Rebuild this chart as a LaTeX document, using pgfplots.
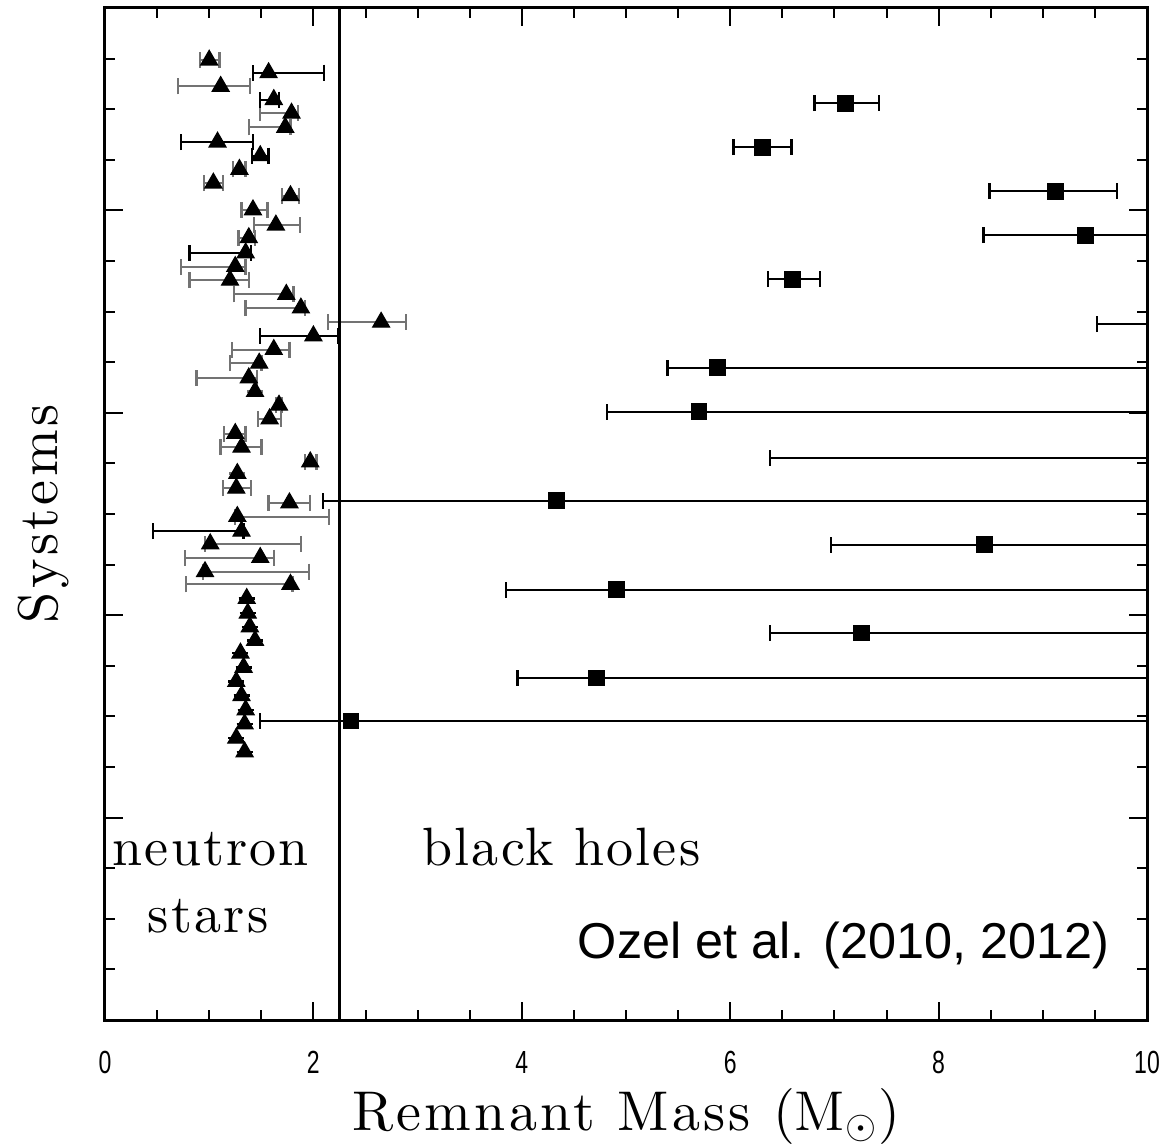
\documentclass[border=0pt]{standalone}
\usepackage{pgfplots}
\pgfplotsset{compat=1.18}
\usepackage{pgfplotstable}
\usepackage{fontspec}
\usetikzlibrary{calc}
\newfontfamily\ticksf{Liberation Sans}[FakeStretch=0.72]
\newfontfamily\notesf{Liberation Sans}
\newfontfamily\lblwide{lmroman10-regular.otf}[LetterSpace=6]
\newfontfamily\regwide{lmroman10-regular.otf}[LetterSpace=4]
\newcommand\lblfont{\lblwide\fontsize{14}{16}\selectfont}
\newcommand\regionfont{\regwide\fontsize{13.5}{16}\selectfont}

% filled up-pointing triangle, mark size = half of its base
\pgfdeclareplotmark{uptri}{%
  \pgfpathmoveto{\pgfqpoint{0pt}{1.155\pgfplotmarksize}}%
  \pgfpathlineto{\pgfqpoint{-\pgfplotmarksize}{-0.577\pgfplotmarksize}}%
  \pgfpathlineto{\pgfqpoint{\pgfplotmarksize}{-0.577\pgfplotmarksize}}%
  \pgfpathclose
  \pgfusepathqfillstroke}

% neutron stars, grey error bars: mass, row, minus error, plus error
\pgfplotstableread{
x    y     em    ep
1.00 18.97 0.09 0.10
1.11 18.45 0.41 0.28
1.79 17.92 0.30 0.06
1.73 17.64 0.35 0.05
1.29 16.81 0.06 0.06
1.04 16.54 0.09 0.09
1.78 16.29 0.08 0.08
1.42 16.01 0.11 0.14
1.64 15.71 0.21 0.23
1.38 15.46 0.10 0.06
1.25 14.89 0.52 0.10
1.20 14.62 0.39 0.18
1.74 14.34 0.50 0.07
1.88 14.07 0.53 0.04
2.65 13.79 0.51 0.24
1.62 13.25 0.40 0.15
1.48 12.98 0.28 0.02
1.38 12.69 0.50 0.08
1.44 12.42 0.00 0.00
1.67 12.15 0.03 0.03
1.58 11.88 0.11 0.11
1.25 11.59 0.11 0.10
1.31 11.32 0.20 0.19
1.97 11.03 0.05 0.06
1.27 10.80 0.00 0.00
1.26 10.51 0.13 0.14
1.77 10.22 0.20 0.20
1.27 9.95  0.02 0.88
1.01 9.41  0.05 0.87
1.49 9.14  0.72 0.13
0.96 8.86  0.02 1.00
1.78 8.61  1.00 0.02
}\nsgray

% neutron stars, black error bars
\pgfplotstableread{
x    y     em    ep
1.57 18.72 0.15 0.53
1.62 18.19 0.13 0.05
1.08 17.35 0.35 0.34
1.49 17.08 0.08 0.08
1.35 15.16 0.54 0.05
2.00 13.52 0.51 0.24
1.31 9.66  0.85 0.02
1.36 8.33  0 0
1.37 8.04  0 0
1.39 7.77  0 0
1.44 7.50  0 0
1.30 7.25  0 0
1.33 6.97  0 0
1.26 6.69  0 0
1.31 6.41  0 0
1.35 6.13  0 0
1.34 5.85  0 0
1.26 5.57  0 0
1.34 5.30  0 0
}\nsblack

% black holes (x = 12 marks a mass beyond the plotted range)
\pgfplotstableread{
x     y     em    ep
7.11  18.12 0.30 0.32
6.31  17.25 0.28 0.28
9.12  16.38 0.63 0.59
9.41  15.51 0.98 5.00
6.60  14.64 0.24 0.26
12.00 13.75 2.48 1.00
5.88  12.89 0.48 10.0
5.70  12.02 0.88 10.0
12.00 11.11 5.62 1.00
4.33  10.26 2.24 10.0
8.44  9.39  1.47 10.0
4.91  8.50  1.06 10.0
7.26  7.65  0.88 10.0
4.72  6.76  0.76 10.0
2.36  5.91  0.87 10.0
}\bh

\begin{document}
\begin{tikzpicture}
\begin{axis}[
  name=ax,
  scale only axis,
  width=260.5pt, height=253pt,
  xmin=0, xmax=10, ymin=0, ymax=20,
  xtick={0,2,4,6,8,10},
  minor x tick num=3,
  ytick={4,8,12,16},
  minor ytick={1,2,3,5,6,7,9,10,11,13,14,15,17,18,19},
  yticklabels={},
  tick align=inside,
  major tick length=4.6pt,
  minor tick length=2.4pt,
  axis line style={line width=0.75pt},
  every tick/.style={black, line width=0.5pt},
  /pgf/number format/assume math mode=true,
  xticklabel style={font=\ticksf\fontsize{8}{9}\selectfont, yshift=-4.3pt},
  xlabel={Remnant Mass ($\mathrm{M}_{\odot}$)},
  ylabel={Systems},
  xlabel style={font=\lblfont, at={(axis description cs:0.5,-0.109)}, anchor=base},
  ylabel style={font=\lblfont, at={(axis description cs:-0.046,0.5)}, anchor=base},
  errbar/.style={draw=none, mark=none,
    error bars/.cd, x dir=both, x explicit,
    error bar style={draw=#1, line width=0.5pt},
    error mark options={rotate=90, mark size=2pt, draw=#1, line width=0.6pt}},
]
% error bars first, so the symbols sit on top of them
\addplot[errbar=black!55] table[x=x, y=y, x error minus=em, x error plus=ep] {\nsgray};
\addplot[errbar=black] table[x=x, y=y, x error minus=em, x error plus=ep] {\nsblack};
\addplot[errbar=black] table[x=x, y=y, x error minus=em, x error plus=ep] {\bh};

\addplot[only marks, mark=uptri, mark size=2.1pt, mark options={fill=black, draw=black, line width=0.3pt}] table[x=x, y=y] {\nsgray};
\addplot[only marks, mark=uptri, mark size=2.1pt, mark options={fill=black, draw=black, line width=0.3pt}] table[x=x, y=y] {\nsblack};
\addplot[only marks, mark=square*, mark size=1.9pt, black] table[x=x, y=y] {\bh};

% dividing line between the two populations
\addplot[black, line width=0.6pt] coordinates {(2.25,0) (2.25,20)};

\node[anchor=base west, inner sep=0pt, font=\regionfont] at (axis cs:0.067,3.06) {neutron};
\node[anchor=base, inner sep=0pt, font=\regionfont] at (axis cs:0.99,1.72) {stars};
\node[anchor=base west, inner sep=0pt, font=\regionfont] at (axis cs:3.04,3.06) {black holes};
\node[anchor=base east, inner sep=0pt, font=\notesf\fontsize{12.6}{15}\selectfont] at (axis cs:9.645,1.225) {Ozel et al. (2010, 2012)};
\end{axis}
\pgfresetboundingbox
\path ($(ax.south west)+(-26.25pt,-30.75pt)$) rectangle ($(ax.north east)+(6.5pt,2pt)$);
\end{tikzpicture}
\end{document}
